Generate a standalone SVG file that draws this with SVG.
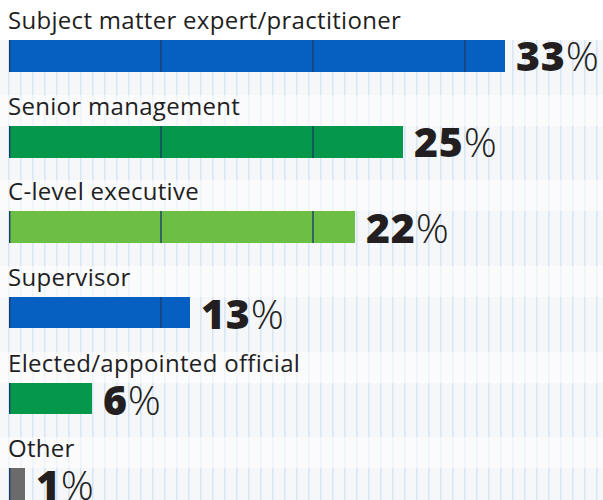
<svg xmlns="http://www.w3.org/2000/svg" width="603" height="500" viewBox="0 0 603 500">
<defs>
<pattern id="grid" x="8" y="0" width="12" height="12" patternUnits="userSpaceOnUse">
<rect x="0" y="0" width="12" height="12" fill="#f6f7f9"/>
<rect x="0" y="0" width="1.6" height="12" fill="#d9e6f6"/>
</pattern>
<style>
.lbl{font-family:"Open Sans","Noto Sans",sans-serif;font-size:24px;letter-spacing:0.3px;fill:#1f1f1f}
.pct{font-family:"Open Sans","Noto Sans",sans-serif;font-size:41px;font-weight:800;letter-spacing:0.8px;fill:#231f20}
.pct tspan{font-weight:300}
.band{fill:#ffffff;opacity:0.55}
.div{stroke:#1d3e6b;stroke-width:1.4}
.blue{fill:#0560c1}
.dgreen{fill:#06984a}
.lgreen{fill:#6cbe45}
.gray{fill:#6b6b6b}
</style>
</defs>
<rect x="0" y="0" width="603" height="500" fill="#ffffff"/>
<rect x="0" y="40" width="603" height="460" fill="url(#grid)"/>
<rect class="band" x="0" y="95" width="603" height="31"/>
<rect class="band" x="0" y="180" width="603" height="31"/>
<rect class="band" x="0" y="266" width="603" height="31"/>
<rect class="band" x="0" y="352" width="603" height="31"/>
<rect class="band" x="0" y="437" width="603" height="31"/>

<g id="row-sme">
<text class="lbl" x="8" y="29">Subject matter expert/practitioner</text>
<rect class="blue" x="9" y="40" width="496" height="32"/>
<text class="pct" x="516" y="71">33<tspan>%</tspan></text>
</g>
<g id="row-senior">
<text class="lbl" x="8" y="115">Senior management</text>
<rect class="dgreen" x="9" y="126" width="394" height="32"/>
<text class="pct" x="414" y="157">25<tspan>%</tspan></text>
</g>
<g id="row-clevel">
<text class="lbl" x="8" y="200">C-level executive</text>
<rect class="lgreen" x="9" y="211" width="346" height="32"/>
<text class="pct" x="366" y="243">22<tspan>%</tspan></text>
</g>
<g id="row-supervisor">
<text class="lbl" x="8" y="286">Supervisor</text>
<rect class="blue" x="9" y="297" width="181" height="31"/>
<text class="pct" x="201" y="329">13<tspan>%</tspan></text>
</g>
<g id="row-elected">
<text class="lbl" x="8" y="372">Elected/appointed official</text>
<rect class="dgreen" x="9" y="383" width="83" height="31"/>
<text class="pct" x="103" y="415">6<tspan>%</tspan></text>
</g>
<g id="row-other">
<text class="lbl" x="8" y="457">Other</text>
<rect class="gray" x="9" y="468" width="16" height="32"/>
<text class="pct" x="36" y="500">1<tspan>%</tspan></text>
</g>

<g id="dividers">
<line class="div" x1="9.7" y1="40" x2="9.7" y2="72"/>
<line class="div" x1="161" y1="40" x2="161" y2="72"/>
<line class="div" x1="313" y1="40" x2="313" y2="72"/>
<line class="div" x1="465" y1="40" x2="465" y2="72"/>
<line class="div" x1="9.7" y1="126" x2="9.7" y2="158"/>
<line class="div" x1="161" y1="126" x2="161" y2="158"/>
<line class="div" x1="313" y1="126" x2="313" y2="158"/>
<line class="div" x1="9.7" y1="211" x2="9.7" y2="243"/>
<line class="div" x1="161" y1="211" x2="161" y2="243"/>
<line class="div" x1="313" y1="211" x2="313" y2="243"/>
<line class="div" x1="9.7" y1="297" x2="9.7" y2="328"/>
<line class="div" x1="161" y1="297" x2="161" y2="328"/>
<line class="div" x1="9.7" y1="383" x2="9.7" y2="414"/>
<line class="div" x1="9.7" y1="468" x2="9.7" y2="500"/>
</g>
</svg>
